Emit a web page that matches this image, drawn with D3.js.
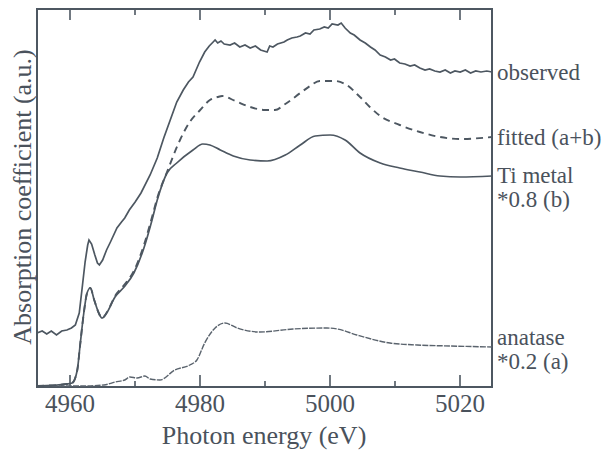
<!DOCTYPE html>
<html>
<head>
<meta charset="utf-8">
<script src="https://cdn.jsdelivr.net/npm/d3@7"></script>
<style>
  body { margin: 0; background: #fff; }
  svg text { font-family: "Liberation Serif", "Times New Roman", serif; fill: #4a525c; }
</style>
</head>
<body>
<svg id="chart" width="604" height="457"></svg>
<script>
// photon energy (eV) / absorption (a.u.)
const observedE = [4955.0, 4955.8, 4956.5, 4957.2, 4958.0, 4958.8, 4959.6, 4960.3, 4960.9, 4961.5, 4962.0, 4962.4, 4962.8, 4963.0, 4963.4, 4963.9, 4964.3, 4964.6, 4965.1, 4965.7, 4966.3, 4967.3, 4968.0, 4968.5, 4969.2, 4970.1, 4971.0, 4972.4, 4973.5, 4974.5, 4975.5, 4976.5, 4977.5, 4978.3, 4979.0, 4980.0, 4980.8, 4981.5, 4982.1, 4982.4, 4982.8, 4983.3, 4983.8, 4984.7, 4985.4, 4986.2, 4987.0, 4987.8, 4988.6, 4989.4, 4990.4, 4990.8, 4991.3, 4992.0, 4993.0, 4993.5, 4994.2, 4995.0, 4995.5, 4996.3, 4997.0, 4997.6, 4998.5, 4999.2, 4999.8, 5000.4, 5001.3, 5001.8, 5002.4, 5003.2, 5003.8, 5004.7, 5005.5, 5006.3, 5007.0, 5007.8, 5008.6, 5009.4, 5010.0, 5010.8, 5011.6, 5012.4, 5013.1, 5013.9, 5014.7, 5015.4, 5016.2, 5017.0, 5017.8, 5018.6, 5019.3, 5020.1, 5020.9, 5021.7, 5022.5, 5023.3, 5024.2, 5025.0];
const observedY = [0.54, 0.56, 0.53, 0.56, 0.52, 0.56, 0.57, 0.59, 0.62, 0.74, 1.02, 1.25, 1.42, 1.47, 1.43, 1.32, 1.24, 1.22, 1.27, 1.37, 1.45, 1.59, 1.65, 1.69, 1.77, 1.85, 1.94, 2.12, 2.29, 2.49, 2.67, 2.85, 2.97, 3.05, 3.10, 3.25, 3.35, 3.41, 3.45, 3.47, 3.44, 3.46, 3.43, 3.42, 3.44, 3.40, 3.42, 3.39, 3.41, 3.37, 3.35, 3.41, 3.40, 3.43, 3.45, 3.47, 3.49, 3.50, 3.51, 3.54, 3.53, 3.57, 3.58, 3.60, 3.59, 3.63, 3.62, 3.64, 3.59, 3.54, 3.52, 3.47, 3.44, 3.40, 3.37, 3.32, 3.30, 3.27, 3.28, 3.24, 3.23, 3.21, 3.22, 3.19, 3.17, 3.18, 3.16, 3.15, 3.17, 3.14, 3.16, 3.15, 3.17, 3.14, 3.16, 3.15, 3.16, 3.15];

const fittedE = [4955.0, 4959.6, 4960.4, 4961.2, 4961.6, 4962.2, 4962.7, 4963.2, 4963.8, 4964.5, 4965.0, 4965.8, 4967.0, 4968.4, 4969.9, 4971.5, 4972.7, 4973.5, 4975.0, 4977.0, 4978.5, 4980.1, 4981.6, 4982.8, 4983.5, 4985.5, 4987.8, 4990.1, 4991.6, 4993.2, 4995.5, 4997.0, 4998.5, 5000.8, 5002.4, 5004.7, 5006.2, 5007.8, 5010.8, 5013.9, 5017.0, 5020.1, 5025.0];
const fittedY = [0.01, 0.03, 0.04, 0.17, 0.40, 0.74, 0.94, 0.99, 0.87, 0.74, 0.69, 0.75, 0.91, 1.02, 1.16, 1.43, 1.70, 1.89, 2.15, 2.47, 2.65, 2.77, 2.87, 2.90, 2.91, 2.86, 2.80, 2.77, 2.77, 2.83, 2.94, 3.01, 3.06, 3.06, 3.03, 2.90, 2.80, 2.71, 2.62, 2.55, 2.50, 2.48, 2.50];

const tiE = [4955.0, 4959.6, 4960.4, 4961.2, 4961.6, 4962.2, 4962.7, 4963.2, 4963.8, 4964.5, 4965.0, 4965.8, 4967.0, 4968.4, 4969.9, 4971.5, 4972.7, 4973.5, 4975.0, 4976.5, 4979.0, 4980.5, 4981.6, 4983.2, 4985.2, 4987.8, 4990.4, 4993.2, 4995.5, 4997.8, 5000.1, 5002.4, 5004.7, 5007.8, 5010.8, 5013.9, 5017.0, 5020.1, 5025.0];
const tiY = [0.01, 0.03, 0.04, 0.17, 0.40, 0.74, 0.94, 0.99, 0.87, 0.74, 0.69, 0.75, 0.90, 1.00, 1.14, 1.40, 1.67, 1.87, 2.14, 2.24, 2.37, 2.43, 2.42, 2.37, 2.31, 2.27, 2.26, 2.32, 2.42, 2.51, 2.52, 2.47, 2.34, 2.24, 2.19, 2.15, 2.11, 2.10, 2.11];

const anataseE = [4955.0, 4961.6, 4965.3, 4967.0, 4968.5, 4969.3, 4970.4, 4971.6, 4972.4, 4973.9, 4976.2, 4978.5, 4979.6, 4980.8, 4982.4, 4983.9, 4985.8, 4989.3, 4994.4, 4999.6, 5001.2, 5004.2, 5009.3, 5013.5, 5018.5, 5025.0];
const anataseY = [0.01, 0.01, 0.02, 0.05, 0.07, 0.10, 0.09, 0.11, 0.08, 0.07, 0.17, 0.22, 0.27, 0.44, 0.59, 0.64, 0.59, 0.55, 0.58, 0.59, 0.58, 0.52, 0.44, 0.42, 0.41, 0.40];

const majorTicks = [4960, 4980, 5000, 5020];
const minorTicks = [4970, 4990, 5010];

const labelObserved = ['observed'];
const labelFitted = ['fitted (a+b)'];
const labelTi = ['Ti metal', '*0.8 (b)'];
const labelAnatase = ['anatase', '*0.2 (a)'];

const xTitle = 'Photon energy (eV)';
const yTitle = 'Absorption coefficient (a.u.)';

const ink = '#4d5761';
const margin = {top: 9, right: 112, bottom: 70, left: 37};
const width = 604, height = 457;

const svg = d3.select('#chart');

const x = d3.scaleLinear().domain([4955, 5025]).range([margin.left, width - margin.right]);
const y = d3.scaleLinear().domain([0, 3.78]).range([height - margin.bottom, margin.top]);

const zip = (es, ys) => es.map((e, i) => ({e: e, v: ys[i]}));

// bottom axis: major ticks + labels, minor ticks
svg.append('g')
  .attr('transform', 'translate(0,' + y.range()[0] + ')')
  .call(d3.axisBottom(x).tickValues(majorTicks).tickFormat(d3.format('d'))
    .tickSizeInner(-12).tickSizeOuter(0).tickPadding(7))
  .call(g => g.select('.domain').remove())
  .call(g => g.selectAll('line').attr('stroke', ink).attr('stroke-width', 1.6))
  .call(g => g.selectAll('text').style('font-size', '25px').attr('fill', '#4a525c'));
svg.append('g')
  .attr('transform', 'translate(0,' + y.range()[0] + ')')
  .call(d3.axisBottom(x).tickValues(minorTicks).tickFormat('').tickSizeInner(-6).tickSizeOuter(0))
  .call(g => g.select('.domain').remove())
  .call(g => g.selectAll('line').attr('stroke', ink).attr('stroke-width', 1.6));

// top axis, ticks only
svg.append('g')
  .attr('transform', 'translate(0,' + y.range()[1] + ')')
  .call(d3.axisTop(x).tickValues(majorTicks).tickFormat('').tickSizeInner(-11).tickSizeOuter(0))
  .call(g => g.select('.domain').remove())
  .call(g => g.selectAll('line').attr('stroke', ink).attr('stroke-width', 1.6));
svg.append('g')
  .attr('transform', 'translate(0,' + y.range()[1] + ')')
  .call(d3.axisTop(x).tickValues(minorTicks).tickFormat('').tickSizeInner(-6).tickSizeOuter(0))
  .call(g => g.select('.domain').remove())
  .call(g => g.selectAll('line').attr('stroke', ink).attr('stroke-width', 1.6));

// frame
svg.append('rect')
  .attr('x', x.range()[0]).attr('y', y.range()[1])
  .attr('width', x.range()[1] - x.range()[0])
  .attr('height', y.range()[0] - y.range()[1])
  .attr('fill', 'none').attr('stroke', ink).attr('stroke-width', 2);

// curves
const smooth = d3.line().x(d => x(d.e)).y(d => y(d.v)).curve(d3.curveMonotoneX);
const jagged = d3.line().x(d => x(d.e)).y(d => y(d.v));

svg.append('path').datum(zip(anataseE, anataseY))
  .attr('d', smooth).attr('fill', 'none').attr('stroke', '#5a636d')
  .attr('stroke-width', 1.4).attr('stroke-dasharray', '6,1.2');
svg.append('path').datum(zip(tiE, tiY))
  .attr('d', smooth).attr('fill', 'none').attr('stroke', ink).attr('stroke-width', 1.7);
svg.append('path').datum(zip(fittedE, fittedY))
  .attr('d', smooth).attr('fill', 'none').attr('stroke', ink)
  .attr('stroke-width', 1.9).attr('stroke-dasharray', '7,5');
svg.append('path').datum(zip(observedE, observedY))
  .attr('d', jagged).attr('fill', 'none').attr('stroke', ink).attr('stroke-width', 1.7);

// right-hand labels, anchored at the end value of each curve
function endLabel(lines, lastVal, shift) {
  const t = svg.append('text')
    .attr('x', x.range()[1] + 5)
    .attr('y', y(lastVal) + shift)
    .style('font-size', '23px');
  lines.forEach((s, i) => t.append('tspan')
    .attr('x', x.range()[1] + 5).attr('dy', i === 0 ? 0 : 24).text(s));
}
endLabel(labelObserved, observedY[observedY.length - 1], 8);
endLabel(labelFitted, fittedY[fittedY.length - 1], 8);
endLabel(labelTi, tiY[tiY.length - 1], 7);
endLabel(labelAnatase, anataseY[anataseY.length - 1], -2);

// axis titles
svg.append('text')
  .attr('x', 264)
  .attr('y', 444)
  .attr('text-anchor', 'middle')
  .style('font-size', '26px')
  .text(xTitle);
svg.append('text')
  .attr('transform', 'translate(31,197) rotate(-90)')
  .attr('text-anchor', 'middle')
  .style('font-size', '26px')
  .text(yTitle);
</script>
</body>
</html>
